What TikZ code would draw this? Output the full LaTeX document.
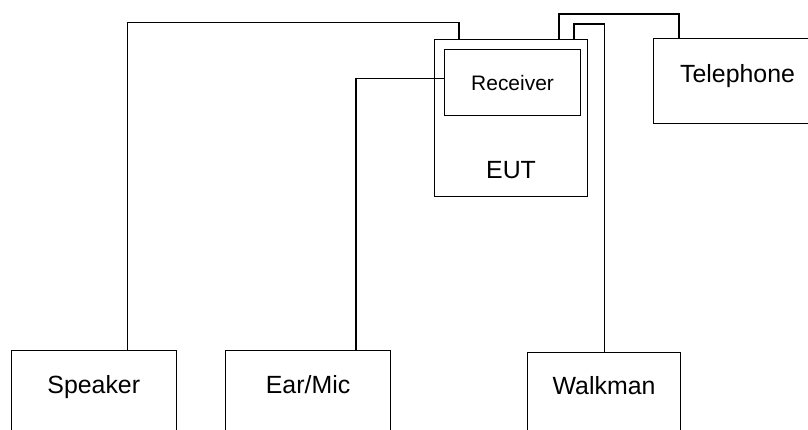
\documentclass[tikz,border=0pt]{standalone}
\usepackage{fontspec}
\setmainfont{Liberation Sans}
\begin{document}
\begin{tikzpicture}[every node/.style={font=\fontsize{17.7}{20}\selectfont},
  box/.style={draw, line width=0.8pt, rectangle, inner sep=0pt, anchor=north west},
  wire/.style={line width=0.8pt}]
\path[use as bounding box] (0,0) rectangle (20.2,10.75);
\clip (0,0) rectangle (20.2,10.75);
% devices below
\node[box, minimum width=4.125cm, text height=1.08cm, text depth=1.5cm] (spk) at (0.2675,2.0) {Speaker};
\node[box, minimum width=4.125cm, text height=1.08cm, text depth=1.5cm] (ear) at (5.625,2.0) {Ear/Mic};
\node[box, minimum width=3.825cm, text height=1.06cm, text depth=1.5cm] (wlk) at (13.175,1.95) {Walkman};
% unit under test
\node[box, minimum width=3.825cm, text height=3.48cm, text depth=0.44cm] (eut) at (10.85,9.775) {EUT};
\node[box, minimum width=3.4cm, minimum height=1.65cm, font=\fontsize{14.9}{17}\selectfont] (rcv) at (11.1,9.525) {Receiver};
\node[box, minimum width=4.2cm, text height=1.09cm, text depth=1.03cm] (tel) at (16.325,9.8) {Telephone};
% cables
\draw[wire] ([xshift=2.91cm]spk.north west) -- ++(0,8.18) -| ([xshift=0.625cm]eut.north west);
\draw[wire] ([xshift=3.275cm]ear.north west) |- ([yshift=0.1cm]rcv.west);
\draw[wire] ([xshift=3.125cm]eut.north west) -- ++(0,0.625) -| ([xshift=0.65cm]tel.north west);
\draw[wire] ([xshift=3.5cm]eut.north west) -- ++(0,0.375) -| (wlk.north);
\end{tikzpicture}
\end{document}
